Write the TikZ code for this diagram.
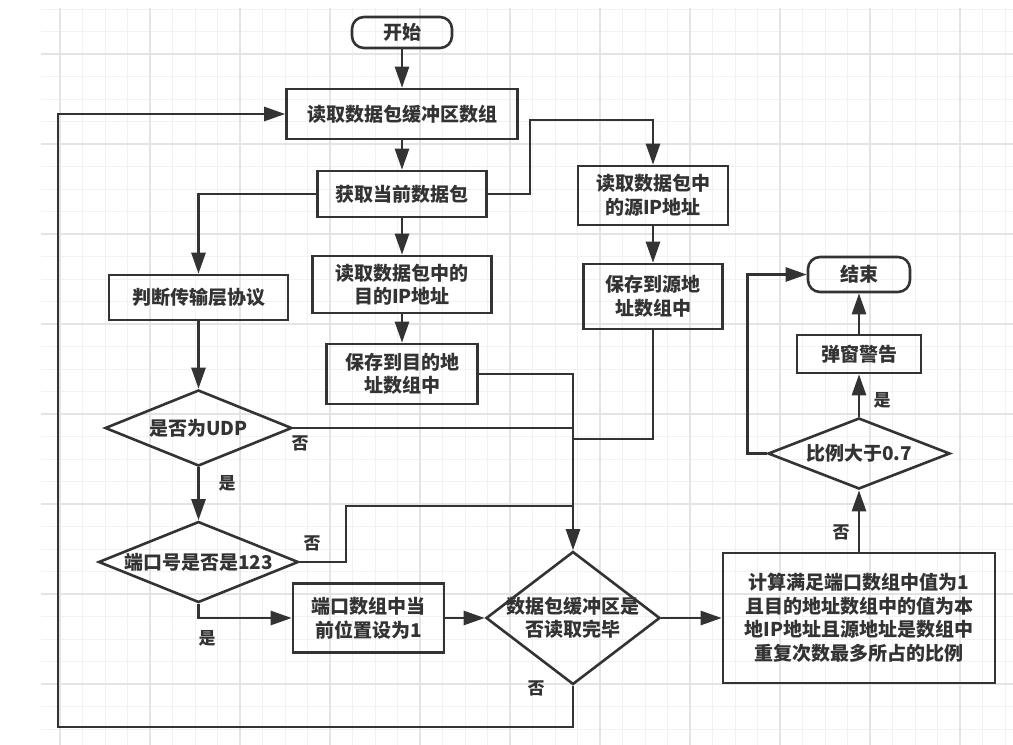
\documentclass[tikz,border=0pt]{standalone}
\usepackage{fontspec}
\newfontfamily\cjk{Noto Sans CJK SC}
\usetikzlibrary{shapes.geometric, arrows.meta}
\definecolor{ink}{HTML}{333333}
\definecolor{gridminor}{HTML}{F2F2F2}
\definecolor{gridmajor}{HTML}{E4E4E4}
\tikzset{
	box/.style={draw=ink, line width=2.6pt, rectangle, align=center, inner sep=0pt, text=ink, font=\cjk\bfseries\fontsize{19}{23.5}\selectfont},
	term/.style={box, rounded corners=12pt},
	decision/.style={draw=ink, line width=2.6pt, diamond, inner sep=0pt, label={[text=ink, align=center, font=\cjk\bfseries\fontsize{19}{23.5}\selectfont]center:#1}},
	lbl/.style={text=ink, inner sep=0pt, font=\cjk\bfseries\fontsize{17}{20}\selectfont},
	line/.style={draw=ink, line width=2.6pt},
	arrow/.style={line, -{Triangle[length=21pt, width=14pt]}},
}
\begin{document}
\begin{tikzpicture}[x=1pt, y=-1pt]
			\useasboundingbox (0,0) rectangle (1013,745);
			% Grid paper
			\fill[white] (0,0) rectangle (1013,745);
			\foreach \k in {0,...,42} {
					\draw[gridminor, line width=1pt] (60+22.5*\k,8) -- (60+22.5*\k,745);
				}
			\foreach \k in {0,...,32} {
					\draw[gridminor, line width=1pt] (41,9+22.5*\k) -- (1013,9+22.5*\k);
				}
			\foreach \k in {0,...,10} {
					\draw[gridmajor, line width=1.2pt] (60+90*\k,8) -- (60+90*\k,745);
				}
			\foreach \k in {0,...,7} {
					\draw[gridmajor, line width=1.2pt] (41,54+90*\k) -- (1013,54+90*\k);
				}
			% Main column
			\node[term, minimum width=100pt, minimum height=31pt] (start) at (402,32.5) {开始};
			\node[box, minimum width=231pt, minimum height=50pt] (readbuf) at (402,114) {读取数据包缓冲区数组};
			\node[box, minimum width=169pt, minimum height=46pt] (getpkt) at (402,194) {获取当前数据包};
			\node[box, minimum width=179pt, minimum height=57pt] (dstip) at (402,284.5) {读取数据包中的\\目的IP地址};
			\node[box, minimum width=151pt, minimum height=60pt] (dstsave) at (402,374) {保存到目的地\\址数组中};
			% Source address branch
			\node[box, minimum width=150pt, minimum height=59pt] (srcip) at (653,195.5) {读取数据包中\\的源IP地址};
			\node[box, minimum width=139pt, minimum height=65pt] (srcsave) at (653,296.5) {保存到源地\\址数组中};
			% Protocol branch
			\node[box, minimum width=179pt, minimum height=45pt] (proto) at (198.5,297.5) {判断传输层协议};
			\node[decision={是否为UDP}, minimum width=187pt, minimum height=76pt] (udp) at (198.5,428) {};
			\node[decision={端口号是否是123}, minimum width=200pt, minimum height=81pt] (port) at (198.5,562) {};
			\node[box, minimum width=151pt, minimum height=69pt] (setport) at (368.5,618) {端口数组中当\\前位置设为1};
			\node[decision={数据包缓冲区是\\否读取完毕}, minimum width=174pt, minimum height=133pt] (bufdone) at (573,618) {};
			% Result
			\node[box, minimum width=272pt, minimum height=130pt] (calc) at (859,618) {计算满足端口数组中值为1\\且目的地址数组中的值为本\\地IP地址且源地址是数组中\\重复次数最多所占的比例};
			\node[decision={比例大于0.7}, minimum width=182pt, minimum height=71pt] (ratio) at (859,453.5) {};
			\node[box, minimum width=124pt, minimum height=38pt] (warn) at (859,354) {弹窗警告};
			\node[term, minimum width=102pt, minimum height=35pt] (stop) at (859,274.5) {结束};
			% Flow
			\draw[arrow] (start) -- (readbuf);
			\draw[arrow] (readbuf) -- (getpkt);
			\draw[arrow] (getpkt) -- (dstip);
			\draw[arrow] (dstip) -- (dstsave);
			\draw[arrow] (getpkt.west) -| (proto.north);
			\draw[arrow] (getpkt.east) -| (530,120) -| (srcip.north);
			\draw[arrow] (srcip) -- (srcsave);
			\draw[arrow] (proto) -- (udp);
			\draw[arrow] (udp) -- (port);
			\draw[arrow] (port.south) |- (setport.west);
			\draw[arrow] (setport) -- (bufdone);
			\draw[arrow] (bufdone) -- (calc);
			\draw[arrow] (calc) -- (ratio);
			\draw[arrow] (ratio) -- (warn);
			\draw[arrow] (warn) -- (stop);
			\draw[arrow] (ratio.west) -- ++(-19,0) |- (stop.west);
			% Lines joining into the buffer check
			\coordinate (srcjoin) at (573,439);
			\coordinate (portjoin) at (573,506);
			\draw[arrow] (dstsave.east) -| (bufdone.north);
			\draw[line] (udp.east) -- (udp.east -| bufdone.north);
			\draw[line] (srcsave.south) |- (srcjoin);
			\draw[line] (port.east) -- ++(46,0) |- (portjoin);
			% Loop back
			\draw[arrow] (bufdone.south) |- (58,727) |- (readbuf.west);
			% Yes/No labels
			\node[lbl] (udpno) at (300,443) {否};
			\node[lbl] (udpyes) at (227,483) {是};
			\node[lbl] (portno) at (312,543) {否};
			\node[lbl] (portyes) at (207,638) {是};
			\node[lbl] (bufno) at (536,688) {否};
			\node[lbl] (rationo) at (841,532) {否};
			\node[lbl] (ratioyes) at (882,400) {是};
		\end{tikzpicture}
\end{document}
